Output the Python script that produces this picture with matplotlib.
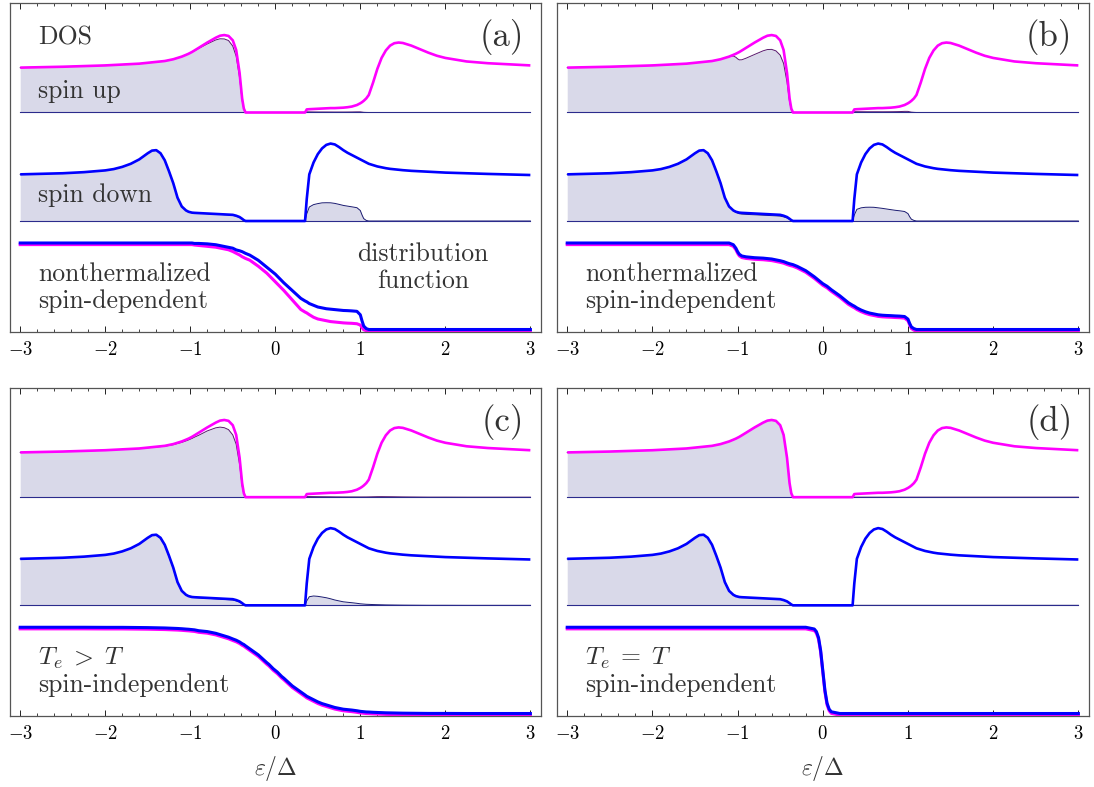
import numpy as np
import matplotlib
matplotlib.use("Agg")
import matplotlib.pyplot as plt

plt.rcParams["mathtext.fontset"] = "cm"

# energy grid in units of Delta, shared by every curve below
energy = [
    -3.0, -2.5, -2.25, -2.0, -1.9, -1.8, -1.7, -1.6, -1.5, -1.45,
    -1.4, -1.35, -1.3, -1.25, -1.2, -1.15, -1.1, -1.05, -1.02, -1.0,
    -0.98, -0.95, -0.9, -0.8, -0.7, -0.65, -0.6, -0.55, -0.5, -0.46,
    -0.42, -0.39, -0.37, -0.35, -0.3, -0.2, -0.1, -0.075, -0.05, -0.025,
    0.0, 0.025, 0.05, 0.075, 0.1, 0.2, 0.3, 0.35, 0.37, 0.4,
    0.45, 0.5, 0.55, 0.6, 0.65, 0.7, 0.75, 0.8, 0.85, 0.9,
    0.96, 1.0, 1.02, 1.04, 1.07, 1.1, 1.15, 1.2, 1.25, 1.3,
    1.35, 1.4, 1.45, 1.5, 1.6, 1.7, 1.8, 1.9, 2.0, 2.25,
    2.5, 3.0,
]

# spin-resolved density of states (normal state = 1)
dos_up = [
    1.02, 1.04, 1.055, 1.07, 1.08, 1.09, 1.10, 1.11, 1.13, 1.14,
    1.15, 1.16, 1.17, 1.19, 1.21, 1.24, 1.27, 1.31, 1.335, 1.355,
    1.375, 1.41, 1.47, 1.59, 1.70, 1.745, 1.76, 1.74, 1.64, 1.42,
    0.90, 0.32, 0.09, 0.0, 0.0, 0.0, 0.0, 0.0, 0.0, 0.0,
    0.0, 0.0, 0.0, 0.0, 0.0, 0.0, 0.0, 0.0, 0.07, 0.075,
    0.08, 0.085, 0.09, 0.095, 0.10, 0.10, 0.105, 0.11, 0.12, 0.135,
    0.17, 0.21, 0.235, 0.265, 0.32, 0.40, 0.68, 0.99, 1.24, 1.41,
    1.52, 1.575, 1.59, 1.58, 1.52, 1.44, 1.36, 1.29, 1.24, 1.16,
    1.12, 1.07,
]
dos_down = [
    1.06, 1.085, 1.11, 1.15, 1.18, 1.23, 1.30, 1.40, 1.54, 1.60,
    1.61, 1.54, 1.38, 1.13, 0.86, 0.53, 0.33, 0.24, 0.21, 0.20,
    0.19, 0.185, 0.18, 0.17, 0.16, 0.155, 0.15, 0.145, 0.14, 0.12,
    0.09, 0.05, 0.02, 0.0, 0.0, 0.0, 0.0, 0.0, 0.0, 0.0,
    0.0, 0.0, 0.0, 0.0, 0.0, 0.0, 0.0, 0.0, 0.50, 1.06,
    1.33, 1.52, 1.65, 1.73, 1.76, 1.74, 1.68, 1.61, 1.55, 1.50,
    1.44, 1.40, 1.38, 1.36, 1.33, 1.30, 1.27, 1.24, 1.22, 1.20,
    1.185, 1.175, 1.165, 1.155, 1.14, 1.13, 1.12, 1.11, 1.10, 1.085,
    1.07, 1.045,
]

# distribution functions
f_a_up = [
    1.0, 1.0, 1.0, 1.0, 1.0, 1.0, 1.0, 1.0, 1.0, 1.0,
    1.0, 1.0, 1.0, 1.0, 1.0, 1.0, 1.0, 1.0, 1.0, 1.0,
    1.0, 0.995, 0.99, 0.98, 0.97, 0.96, 0.95, 0.94, 0.92, 0.90,
    0.88, 0.86, 0.85, 0.84, 0.82, 0.75, 0.67, 0.645, 0.62, 0.595,
    0.57, 0.545, 0.52, 0.495, 0.47, 0.36, 0.25, 0.22, 0.21, 0.19,
    0.16, 0.14, 0.13, 0.12, 0.11, 0.105, 0.10, 0.095, 0.092, 0.09,
    0.085, 0.07, 0.04, 0.015, 0.005, 0.0, 0.0, 0.0, 0.0, 0.0,
    0.0, 0.0, 0.0, 0.0, 0.0, 0.0, 0.0, 0.0, 0.0, 0.0,
    0.0, 0.0,
]
f_a_down = [
    1.0, 1.0, 1.0, 1.0, 1.0, 1.0, 1.0, 1.0, 1.0, 1.0,
    1.0, 1.0, 1.0, 1.0, 1.0, 1.0, 1.0, 1.0, 1.0, 1.0,
    1.0, 0.995, 0.995, 0.99, 0.98, 0.97, 0.96, 0.95, 0.94, 0.92,
    0.91, 0.90, 0.89, 0.88, 0.86, 0.80, 0.72, 0.70, 0.68, 0.66,
    0.64, 0.615, 0.59, 0.565, 0.54, 0.45, 0.36, 0.33, 0.32, 0.30,
    0.28, 0.26, 0.25, 0.24, 0.235, 0.23, 0.225, 0.22, 0.218, 0.215,
    0.21, 0.17, 0.10, 0.04, 0.01, 0.0, 0.0, 0.0, 0.0, 0.0,
    0.0, 0.0, 0.0, 0.0, 0.0, 0.0, 0.0, 0.0, 0.0, 0.0,
    0.0, 0.0,
]
f_b = [
    1.0, 1.0, 1.0, 1.0, 1.0, 1.0, 1.0, 1.0, 1.0, 1.0,
    1.0, 1.0, 1.0, 1.0, 1.0, 1.0, 1.0, 0.98, 0.94, 0.90,
    0.87, 0.85, 0.84, 0.83, 0.825, 0.82, 0.815, 0.805, 0.795, 0.785,
    0.77, 0.76, 0.755, 0.75, 0.73, 0.68, 0.61, 0.59, 0.57, 0.55,
    0.53, 0.515, 0.50, 0.48, 0.46, 0.39, 0.31, 0.28, 0.27, 0.25,
    0.225, 0.205, 0.19, 0.18, 0.17, 0.165, 0.162, 0.16, 0.157, 0.155,
    0.15, 0.12, 0.07, 0.03, 0.01, 0.0, 0.0, 0.0, 0.0, 0.0,
    0.0, 0.0, 0.0, 0.0, 0.0, 0.0, 0.0, 0.0, 0.0, 0.0,
    0.0, 0.0,
]
f_c = [
    1.0, 1.0, 1.0, 0.999, 0.999, 0.999, 0.998, 0.997, 0.996, 0.995,
    0.994, 0.993, 0.992, 0.99, 0.988, 0.986, 0.983, 0.979, 0.977, 0.975,
    0.973, 0.97, 0.96, 0.95, 0.93, 0.915, 0.90, 0.885, 0.865, 0.85,
    0.83, 0.81, 0.80, 0.785, 0.75, 0.68, 0.59, 0.57, 0.545, 0.52,
    0.50, 0.48, 0.455, 0.43, 0.41, 0.32, 0.25, 0.215, 0.20, 0.185,
    0.16, 0.135, 0.115, 0.10, 0.085, 0.07, 0.06, 0.05, 0.045, 0.04,
    0.032, 0.025, 0.023, 0.021, 0.018, 0.017, 0.014, 0.012, 0.01, 0.008,
    0.007, 0.006, 0.005, 0.004, 0.003, 0.002, 0.001, 0.001, 0.001, 0.0,
    0.0, 0.0,
]
f_d = [
    1.0, 1.0, 1.0, 1.0, 1.0, 1.0, 1.0, 1.0, 1.0, 1.0,
    1.0, 1.0, 1.0, 1.0, 1.0, 1.0, 1.0, 1.0, 1.0, 1.0,
    1.0, 1.0, 1.0, 1.0, 1.0, 1.0, 1.0, 1.0, 1.0, 1.0,
    1.0, 1.0, 1.0, 1.0, 1.0, 1.0, 0.98, 0.95, 0.88, 0.73,
    0.50, 0.27, 0.12, 0.05, 0.02, 0.0, 0.0, 0.0, 0.0, 0.0,
    0.0, 0.0, 0.0, 0.0, 0.0, 0.0, 0.0, 0.0, 0.0, 0.0,
    0.0, 0.0, 0.0, 0.0, 0.0, 0.0, 0.0, 0.0, 0.0, 0.0,
    0.0, 0.0, 0.0, 0.0, 0.0, 0.0, 0.0, 0.0, 0.0, 0.0,
    0.0, 0.0,
]

panel_tags = ["(a)", "(b)", "(c)", "(d)"]
panel_f_up = [f_a_up, f_b, f_c, f_d]
panel_f_down = [f_a_down, f_b, f_c, f_d]
panel_notes = [
    ["nonthermalized", "spin-dependent"],
    ["nonthermalized", "spin-independent"],
    [r"$T_e\;>\;T$", "spin-independent"],
    [r"$T_e\;=\;T$", "spin-independent"],
]
tick_values = [-3, -2, -1, 0, 1, 2, 3]

MAGENTA = "#ff00ff"
BLUE = "#0000ff"
FILL = "#d9d9e9"
TEXT = "#333333"
SERIF = "cmr10"
FS = 18.5

# vertical layout of one panel (axes units are pixels above the bottom frame)
YTOP = 329.0
UP_BASE = 219.5
DOWN_BASE = 111.0
DOS_SCALE = 44.0
F_ZERO = 2.5
F_SCALE = 86.5


def label(ax, x, y, s, ha="left", size=FS):
    ax.text(x, y, s, ha=ha, va="center", fontsize=size, family=SERIF,
            color=TEXT)


def draw_panel(ax, f_up, f_down, tag, note, first):
    e = np.array(energy)
    curves = [
        (np.array(dos_up), np.array(f_up), UP_BASE, MAGENTA, "#5a1a6e"),
        (np.array(dos_down), np.array(f_down), DOWN_BASE, BLUE, "#1a1a70"),
    ]
    for dos, occ, base, col, edge in curves:
        occupied = base + DOS_SCALE * dos * occ
        ax.fill_between(e, base, occupied, color=FILL, lw=0)
        ax.plot(e, occupied, color=edge, lw=0.7)
        ax.plot([e[0], e[-1]], [base, base], color="#2b2b8c", lw=0.8)
        ax.plot(e, base + DOS_SCALE * dos, color=col, lw=1.9,
                solid_capstyle="butt")

    # spin-up distribution sits a hair lower so both stay visible
    ax.plot(e, F_ZERO + F_SCALE * np.array(f_up) - 1.6, color=MAGENTA, lw=2.2)
    ax.plot(e, F_ZERO + F_SCALE * np.array(f_down), color=BLUE, lw=2.2)

    ax.set_xlim(-3.12, 3.125)
    ax.set_ylim(0, YTOP)
    ax.set_yticks([])
    ax.set_xticks(tick_values)
    ax.set_xticklabels([f"${v}$" for v in tick_values])
    ax.set_xticks(np.arange(-3, 3.01, 0.2), minor=True)
    ax.tick_params(axis="x", which="both", direction="in", top=True,
                   labelsize=13.5, pad=6, color="#222222")
    ax.tick_params(axis="x", which="major", length=4.5, width=0.7)
    ax.tick_params(axis="x", which="minor", length=2.2, width=0.6)
    for s in ax.spines.values():
        s.set_color("#555555")
        s.set_linewidth(0.9)

    label(ax, 2.93, 295, tag, ha="right", size=25)
    label(ax, -2.79, 58, note[0])
    label(ax, -2.79, 31, note[1])
    if first:
        label(ax, -2.79, 294, "DOS")
        label(ax, -2.79, 241, "spin up")
        label(ax, -2.79, 137, "spin down")
        label(ax, 1.74, 78, "distribution", ha="center")
        label(ax, 1.74, 51, "function", ha="center")


fig = plt.figure(figsize=(10.94, 7.87), dpi=100)
W, H = 1094.0, 787.0
boxes = [
    (10, 332, 531, 329),
    (557, 332, 532, 329),
    (10, 716, 531, 328),
    (557, 716, 532, 328),
]
for i, (left, bottom, w, h) in enumerate(boxes):
    ax = fig.add_axes([left / W, 1 - bottom / H, w / W, h / H])
    draw_panel(ax, panel_f_up[i], panel_f_down[i], panel_tags[i],
               panel_notes[i], i == 0)
    if i >= 2:
        ax.set_xlabel(r"$\varepsilon/\Delta$", fontsize=17, labelpad=8,
                      color=TEXT)

fig.savefig("out.png", dpi=100)
